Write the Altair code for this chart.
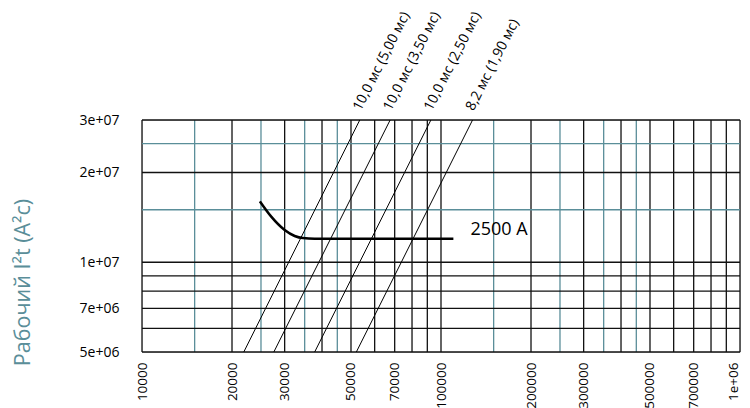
import altair as alt
import pandas as pd

# ---- data ----
x_black = [10000, 20000, 30000, 40000, 50000, 60000, 70000, 80000, 90000,
           100000, 200000, 300000, 400000, 500000, 600000, 700000, 800000, 900000, 1000000]
x_teal = [15000, 25000, 35000, 45000, 150000, 250000, 350000, 450000]
y_black = [5e6, 6e6, 7e6, 8e6, 9e6, 1e7, 2e7, 3e7]
y_teal = [1.5e7, 2.5e7]

x_tick_values = [10000, 20000, 30000, 50000, 70000, 100000, 200000, 300000, 500000, 700000, 1000000]
x_tick_labels = ["10000", "20000", "30000", "50000", "70000", "100000", "200000",
                 "300000", "500000", "700000", "1e+06"]
y_tick_values = [5e6, 7e6, 1e7, 2e7, 3e7]
y_tick_labels = ["5e+06", "7e+06", "1e+07", "2e+07", "3e+07"]

# diagonal lines (current at bottom / top of plot)
diag_labels = ["10,0 мс (5,00 мс)", "10,0 мс (3,50 мс)", "10,0 мс (2,50 мс)", "8,2 мс (1,90 мс)"]
diag_I_bottom = [21900, 27600, 37800, 52100]
diag_I_top = [53500, 67600, 92500, 127500]
diag_y_bottom = 5e6
diag_y_top = 3e7

# 2500 A curve
curve_I = [24800, 27100, 30000, 32400, 34500, 37800, 110000]
curve_y = [1.6e7, 1.42e7, 1.283e7, 1.225e7, 1.205e7, 1.2e7, 1.2e7]
curve_label = "2500 A"

FONT = "Open Sans"
TEAL = "#5a8e99"


def label_expr(values, labels):
    expr = "''"
    for v, l in reversed(list(zip(values, labels))):
        expr = f"abs(datum.value - {v}) < 1e-6 * {v} ? '{l}' : ({expr})"
    return expr


xscale = alt.Scale(type="log", domain=[1e4, 1e6], nice=False)
yscale = alt.Scale(type="log", domain=[5e6, 3e7], nice=False)

x_axis = alt.Axis(values=x_tick_values, labelExpr=label_expr(x_tick_values, x_tick_labels),
                  labelAngle=270, labelFontSize=13.5, labelFont=FONT, labelColor="#000000",
                  labelPadding=10, ticks=False, domain=False, grid=False, title=None,
                  labelOverlap=False, labelFlush=False,
                  labelOffset={"condition": {"test": f"datum.value >= {x_tick_values[-1]} * 0.999",
                                             "value": -7}, "value": 0})
y_axis = alt.Axis(values=y_tick_values, labelExpr=label_expr(y_tick_values, y_tick_labels),
                  labelFontSize=14, labelFont=FONT, labelColor="#000000",
                  labelPadding=23, ticks=False, domain=False, grid=False,
                  title="Рабочий I²t (A²c)", titleFont=FONT, titleFontSize=21.5,
                  titleFontWeight="normal", titleColor=TEAL, titleX=-119, titleY=162,
                  titleAngle=270, titleAlign="center", titleBaseline="middle",
                  labelOverlap=False, labelFlush=False)


def X(field):
    return alt.X(field, type="quantitative", scale=xscale, axis=x_axis)


def Y(field):
    return alt.Y(field, type="quantitative", scale=yscale, axis=y_axis)


# grid
vgrid = pd.DataFrame({"I": x_black + x_teal,
                      "kind": ["black"] * len(x_black) + ["teal"] * len(x_teal)})
hgrid = pd.DataFrame({"v": y_black + y_teal,
                      "kind": ["black"] * len(y_black) + ["teal"] * len(y_teal)})
color_scale = alt.Scale(domain=["teal", "black"], range=[TEAL, "#111111"])

vrules = alt.Chart(vgrid).mark_rule(strokeWidth=1.3).encode(
    x=X("I"),
    color=alt.Color("kind:N", scale=color_scale, legend=None),
)
hrules = alt.Chart(hgrid).mark_rule(strokeWidth=1.3).encode(
    y=Y("v"),
    color=alt.Color("kind:N", scale=color_scale, legend=None),
)

# diagonal lines
rows = []
for lab, ib, it in zip(diag_labels, diag_I_bottom, diag_I_top):
    rows.append({"lab": lab, "I": ib, "v": diag_y_bottom, "o": 0})
    rows.append({"lab": lab, "I": it, "v": diag_y_top, "o": 1})
diag_df = pd.DataFrame(rows)
diag = alt.Chart(diag_df).mark_line(color="#000000", strokeWidth=1).encode(
    x=X("I"), y=Y("v"),
    detail="lab:N", order="o:Q",
)
diag_text_df = pd.DataFrame({"lab": diag_labels, "I": diag_I_top, "v": [diag_y_top] * len(diag_labels)})
diag_text = alt.Chart(diag_text_df).mark_text(
    angle=297, align="left", baseline="alphabetic", dx=8, dy=-3,
    font=FONT, fontSize=14, color="#000000"
).encode(
    x=X("I"), y=Y("v"),
    text="lab:N",
)

# 2500 A curve
curve_df = pd.DataFrame({"I": curve_I, "v": curve_y})
curve = alt.Chart(curve_df).mark_line(color="#000000", strokeWidth=2.5, interpolate="monotone").encode(
    x=X("I"), y=Y("v"),
)
curve_text_df = pd.DataFrame({"I": [curve_I[-1]], "v": [curve_y[-1]], "t": [curve_label]})
curve_text = alt.Chart(curve_text_df).mark_text(
    align="left", baseline="alphabetic", dx=17, dy=-4, font=FONT, fontSize=18, color="#000000"
).encode(
    x=X("I"), y=Y("v"),
    text="t:N",
)

chart = alt.layer(vrules, hrules, diag, curve, diag_text, curve_text).properties(
    width=598, height=232,
    autosize=alt.AutoSizeParams(type="none"),
    padding={"left": 134, "top": 112, "right": 2, "bottom": 56},
).configure_view(stroke=None).configure(background="#ffffff")

chart.save("out.html", embed_options={"renderer": "svg", "actions": False})
